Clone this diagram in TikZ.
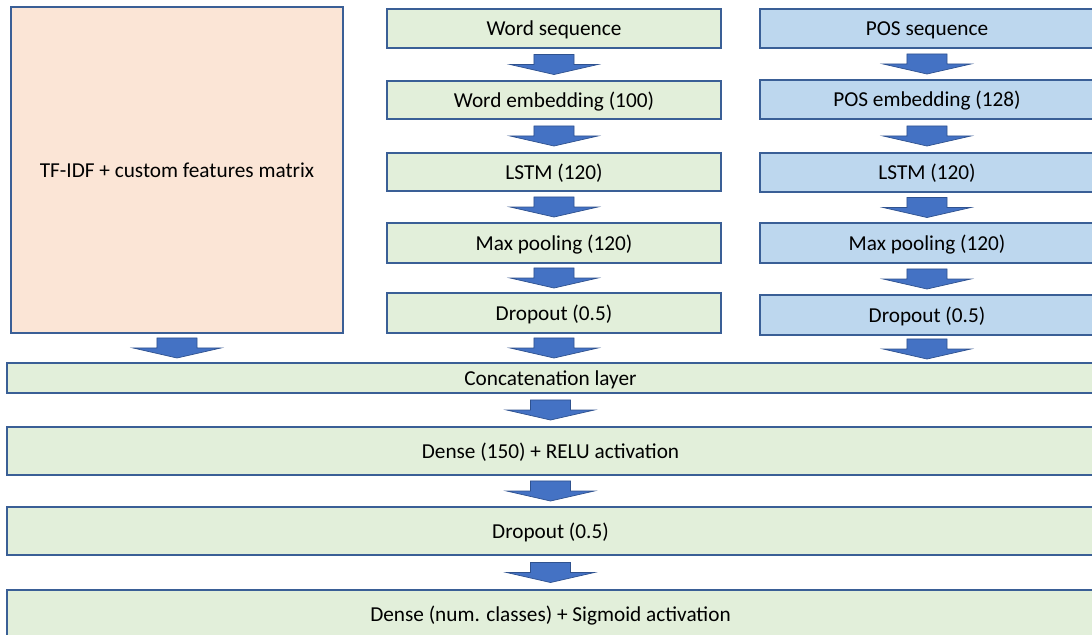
\documentclass[tikz,border=0pt]{standalone}
\usepackage{fontspec}
\setmainfont{Carlito}
\usetikzlibrary{calc}

\definecolor{layergreen}{HTML}{E2EFDA}
\definecolor{layerblue}{HTML}{BDD7EE}
\definecolor{layerpink}{HTML}{FBE5D6}
\definecolor{edgeblue}{HTML}{3A5F96}
\definecolor{arrowblue}{HTML}{4472C4}
\definecolor{arrowedge}{HTML}{2F528F}

\tikzset{
  layer/.style={draw=edgeblue, line width=0.7pt, inner sep=0pt, outer sep=0pt,
    font=\fontsize{12.1}{14.5}\selectfont, text=black, text height=1.05em, text depth=0.25em},
  wordlayer/.style={layer, fill=layergreen, minimum width=6.68cm},
  poslayer/.style={layer, fill=layerblue, minimum width=6.68cm},
  widelayer/.style={layer, fill=layergreen, minimum width=21.74cm},
  blockarr/.style={fill=arrowblue, draw=arrowedge, line width=0.4pt, line join=miter}
}

% fat block arrow from the bottom of #1 down to the top of #2
\newcommand{\blockarrow}[2]{%
  \path (#1.south) -- (#1.south |- #2.north) coordinate[pos=0.5] (mid);
  \draw[blockarr] ([shift={(-11.4pt,5.7pt)}]mid) -- ++(22.8pt,0) -- ++(0,-5.7pt)
    -- ++(13.6pt,0) -- ++(-25pt,-5.7pt) -- ++(-25pt,5.7pt) -- ++(13.6pt,0) -- cycle;}

\begin{document}
\begin{tikzpicture}[x=0.02cm, y=-0.02cm]
          \useasboundingbox (0,0) rectangle (1092,635);
          \clip (0,0) rectangle (1092,635);

          \node[layer, fill=layerpink, minimum width=6.64cm, minimum height=6.52cm] (tfidf) at (177,170) {TF-IDF + custom features matrix};

          \node[wordlayer, minimum height=0.78cm] (wseq) at (554,28.5) {Word sequence};
          \node[wordlayer, minimum height=0.76cm] (wemb) at (554,100) {Word embedding (100)};
          \node[wordlayer, minimum height=0.76cm] (wlstm) at (554,172) {LSTM (120)};
          \node[wordlayer, minimum height=0.8cm] (wpool) at (554,243) {Max pooling (120)};
          \node[wordlayer, minimum height=0.8cm] (wdrop) at (554,313) {Dropout (0.5)};

          \node[poslayer, minimum height=0.78cm] (pseq) at (927,28.5) {POS sequence};
          \node[poslayer, minimum height=0.78cm] (pemb) at (927,99.5) {POS embedding (128)};
          \node[poslayer, minimum height=0.78cm] (plstm) at (927,172.5) {LSTM (120)};
          \node[poslayer, minimum height=0.8cm] (ppool) at (927,243) {Max pooling (120)};
          \node[poslayer, minimum height=0.8cm] (pdrop) at (927,315) {Dropout (0.5)};

          \node[widelayer, minimum height=0.6cm] (concat) at (550.5,378) {Concatenation layer};
          \node[widelayer, minimum height=0.96cm] (dense) at (550.5,451) {Dense (150) + RELU activation};
          \node[widelayer, minimum height=0.96cm] (drop) at (550.5,531) {Dropout (0.5)};
          \node[widelayer, minimum height=0.96cm] (out) at (550.5,614) {Dense (num. classes) + Sigmoid activation};

          \blockarrow{wseq}{wemb}
          \blockarrow{wemb}{wlstm}
          \blockarrow{wlstm}{wpool}
          \blockarrow{wpool}{wdrop}
          \blockarrow{wdrop}{concat}
          \blockarrow{pseq}{pemb}
          \blockarrow{pemb}{plstm}
          \blockarrow{plstm}{ppool}
          \blockarrow{ppool}{pdrop}
          \blockarrow{pdrop}{concat}
          \blockarrow{tfidf}{concat}
          \blockarrow{concat}{dense}
          \blockarrow{dense}{drop}
          \blockarrow{drop}{out}
      \end{tikzpicture}
\end{document}
